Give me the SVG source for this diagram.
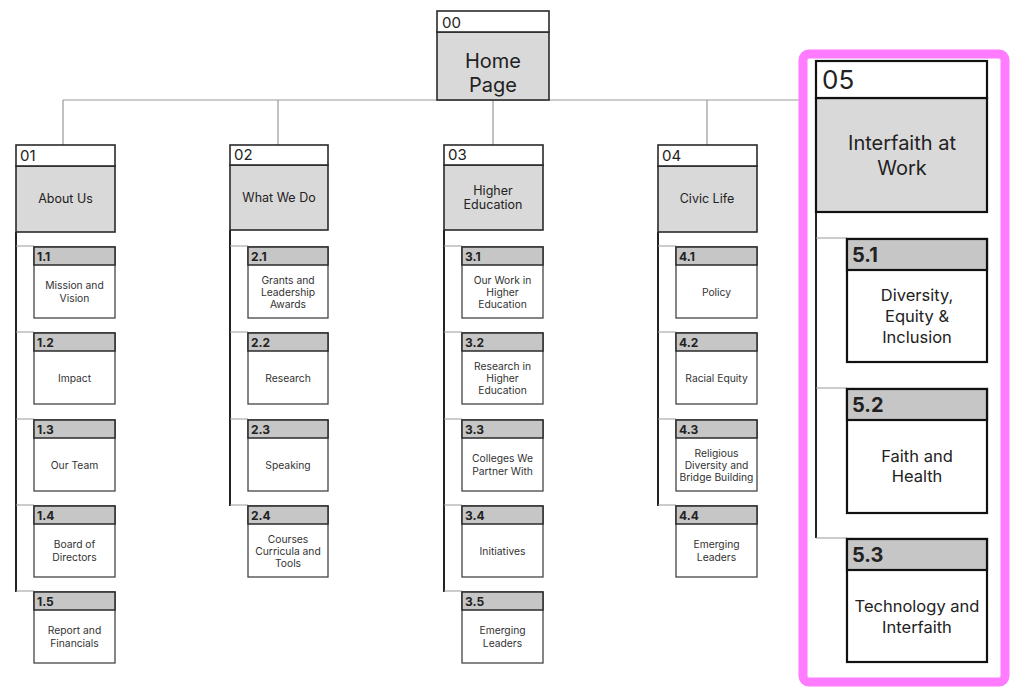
<svg xmlns="http://www.w3.org/2000/svg" width="1028" height="695" viewBox="0 0 1028 695">
<style>
text{font-family:Inter,"Noto Sans","Liberation Sans",sans-serif;fill:#222}
.hw{fill:#fff;stroke:#2a2a2a;stroke-width:1.6}
.hg{fill:#d9d9d9;stroke:#2a2a2a;stroke-width:1.6}
.cg{fill:#c6c6c6;stroke:#2a2a2a;stroke-width:1.5}
.cw{fill:#fff;stroke:#444;stroke-width:1.3}
.num{font-size:15px}
.top{font-size:12.5px;text-anchor:middle}
.cl{font-size:12px;font-weight:700}
.ct{font-size:10.3px;text-anchor:middle;fill:#333}
.thin{stroke:#999;stroke-width:1.2;fill:none}
.trunk{stroke:#222;stroke-width:2;fill:none}
.big{font-size:20px;text-anchor:middle}
.bl{font-size:20px;font-weight:700}
.bt{font-size:16.5px;text-anchor:middle}
.b5{stroke:#111;stroke-width:2.2}
</style>
<rect x="0" y="0" width="1028" height="695" fill="#fff"/>
<g id="connectors">
<path class="thin" d="M63 100H800M63 100V145M278 100V145M493 100V145M707 100V145M901 56V62"/>
<path class="trunk" d="M16 232V592M230 230V506M444 230V592M658 232V506"/>
<path class="thin" d="M16 246H34M16 332H34M16 419H34M16 505H34M16 591H34"/>
<path class="thin" d="M230 246H248M230 332H248M230 419H248M230 505H248"/>
<path class="thin" d="M444 246H462M444 332H462M444 419H462M444 505H462M444 591H462"/>
<path class="thin" d="M658 246H676M658 332H676M658 419H676M658 505H676"/>
</g>
<rect x="803" y="54" width="202" height="628" rx="6" fill="#fff" stroke="#ff7bff" stroke-width="9"/>
<path class="trunk" d="M816 212V538" stroke-width="2.4"/>
<path class="thin" d="M816 238H847M816 388H847M816 538H847"/>
<g id="n00">
<rect class="hg" x="437" y="32" width="112" height="68"/>
<rect class="hw" x="437" y="11" width="112" height="21"/>
<text class="num" x="442" y="28">00</text>
<text class="big" x="493" y="68">Home</text>
<text class="big" x="493" y="92">Page</text>
</g>
<g id="n01">
<rect class="hg" x="16" y="166" width="99" height="66"/>
<rect class="hw" x="16" y="145" width="99" height="21"/>
<text class="num" x="20" y="161">01</text>
<text class="top" x="65.5" y="203">About Us</text>
</g>
<g id="n02">
<rect class="hg" x="230" y="165" width="98" height="65"/>
<rect class="hw" x="230" y="145" width="98" height="20"/>
<text class="num" x="234" y="160">02</text>
<text class="top" x="279" y="202">What We Do</text>
</g>
<g id="n03">
<rect class="hg" x="444" y="165" width="99" height="65"/>
<rect class="hw" x="444" y="145" width="99" height="20"/>
<text class="num" x="448" y="160">03</text>
<text class="top" x="493" y="195">Higher</text>
<text class="top" x="493" y="209">Education</text>
</g>
<g id="n04">
<rect class="hg" x="658" y="166" width="99" height="66"/>
<rect class="hw" x="658" y="145" width="99" height="21"/>
<text class="num" x="662" y="161">04</text>
<text class="top" x="707" y="203">Civic Life</text>
</g>
<g id="n05">
<rect class="hg b5" x="816" y="98" width="171" height="114"/>
<rect class="hw b5" x="816" y="61" width="171" height="37"/>
<text x="822" y="89" font-size="26">05</text>
<text class="big" x="902" y="150">Interfaith at</text>
<text class="big" x="902" y="175">Work</text>
</g>
<!-- column 1 children -->
<g id="n1_1"><rect class="cw" x="34" y="247" width="81" height="71"/><rect class="cg" x="34" y="247" width="81" height="18"/><text class="cl" x="37" y="261">1.1</text><text class="ct" x="74.5" y="289">Mission and</text><text class="ct" x="74.5" y="302">Vision</text></g>
<g id="n1_2"><rect class="cw" x="34" y="333" width="81" height="71"/><rect class="cg" x="34" y="333" width="81" height="18"/><text class="cl" x="37" y="347">1.2</text><text class="ct" x="74.5" y="381.5">Impact</text></g>
<g id="n1_3"><rect class="cw" x="34" y="420" width="81" height="71"/><rect class="cg" x="34" y="420" width="81" height="18"/><text class="cl" x="37" y="434">1.3</text><text class="ct" x="74.5" y="468.5">Our Team</text></g>
<g id="n1_4"><rect class="cw" x="34" y="506" width="81" height="71"/><rect class="cg" x="34" y="506" width="81" height="18"/><text class="cl" x="37" y="520">1.4</text><text class="ct" x="74.5" y="548">Board of</text><text class="ct" x="74.5" y="561">Directors</text></g>
<g id="n1_5"><rect class="cw" x="34" y="592" width="81" height="71"/><rect class="cg" x="34" y="592" width="81" height="18"/><text class="cl" x="37" y="606">1.5</text><text class="ct" x="74.5" y="634">Report and</text><text class="ct" x="74.5" y="647">Financials</text></g>
<!-- column 2 children -->
<g id="n2_1"><rect class="cw" x="248" y="247" width="80" height="71"/><rect class="cg" x="248" y="247" width="80" height="18"/><text class="cl" x="251" y="261">2.1</text><text class="ct" x="288" y="283.5">Grants and</text><text class="ct" x="288" y="295.5">Leadership</text><text class="ct" x="288" y="307.5">Awards</text></g>
<g id="n2_2"><rect class="cw" x="248" y="333" width="80" height="71"/><rect class="cg" x="248" y="333" width="80" height="18"/><text class="cl" x="251" y="347">2.2</text><text class="ct" x="288" y="381.5">Research</text></g>
<g id="n2_3"><rect class="cw" x="248" y="420" width="80" height="71"/><rect class="cg" x="248" y="420" width="80" height="18"/><text class="cl" x="251" y="434">2.3</text><text class="ct" x="288" y="468.5">Speaking</text></g>
<g id="n2_4"><rect class="cw" x="248" y="506" width="80" height="71"/><rect class="cg" x="248" y="506" width="80" height="18"/><text class="cl" x="251" y="520">2.4</text><text class="ct" x="288" y="542.5">Courses</text><text class="ct" x="288" y="554.5">Curricula and</text><text class="ct" x="288" y="566.5">Tools</text></g>
<!-- column 3 children -->
<g id="n3_1"><rect class="cw" x="462" y="247" width="81" height="71"/><rect class="cg" x="462" y="247" width="81" height="18"/><text class="cl" x="465" y="261">3.1</text><text class="ct" x="502.5" y="283.5">Our Work in</text><text class="ct" x="502.5" y="295.5">Higher</text><text class="ct" x="502.5" y="307.5">Education</text></g>
<g id="n3_2"><rect class="cw" x="462" y="333" width="81" height="71"/><rect class="cg" x="462" y="333" width="81" height="18"/><text class="cl" x="465" y="347">3.2</text><text class="ct" x="502.5" y="369.5">Research in</text><text class="ct" x="502.5" y="381.5">Higher</text><text class="ct" x="502.5" y="393.5">Education</text></g>
<g id="n3_3"><rect class="cw" x="462" y="420" width="81" height="71"/><rect class="cg" x="462" y="420" width="81" height="18"/><text class="cl" x="465" y="434">3.3</text><text class="ct" x="502.5" y="462">Colleges We</text><text class="ct" x="502.5" y="475">Partner With</text></g>
<g id="n3_4"><rect class="cw" x="462" y="506" width="81" height="71"/><rect class="cg" x="462" y="506" width="81" height="18"/><text class="cl" x="465" y="520">3.4</text><text class="ct" x="502.5" y="554.5">Initiatives</text></g>
<g id="n3_5"><rect class="cw" x="462" y="592" width="81" height="71"/><rect class="cg" x="462" y="592" width="81" height="18"/><text class="cl" x="465" y="606">3.5</text><text class="ct" x="502.5" y="634">Emerging</text><text class="ct" x="502.5" y="647">Leaders</text></g>
<!-- column 4 children -->
<g id="n4_1"><rect class="cw" x="676" y="247" width="81" height="71"/><rect class="cg" x="676" y="247" width="81" height="18"/><text class="cl" x="679" y="261">4.1</text><text class="ct" x="716.5" y="295.5">Policy</text></g>
<g id="n4_2"><rect class="cw" x="676" y="333" width="81" height="71"/><rect class="cg" x="676" y="333" width="81" height="18"/><text class="cl" x="679" y="347">4.2</text><text class="ct" x="716.5" y="381.5">Racial Equity</text></g>
<g id="n4_3"><rect class="cw" x="676" y="420" width="81" height="71"/><rect class="cg" x="676" y="420" width="81" height="18"/><text class="cl" x="679" y="434">4.3</text><text class="ct" x="716.5" y="456.5">Religious</text><text class="ct" x="716.5" y="468.5">Diversity and</text><text class="ct" x="716.5" y="480.5">Bridge Building</text></g>
<g id="n4_4"><rect class="cw" x="676" y="506" width="81" height="71"/><rect class="cg" x="676" y="506" width="81" height="18"/><text class="cl" x="679" y="520">4.4</text><text class="ct" x="716.5" y="548">Emerging</text><text class="ct" x="716.5" y="561">Leaders</text></g>
<!-- column 5 children -->
<g id="n5_1"><rect class="cw b5" x="847" y="239" width="140" height="123"/><rect class="cg b5" x="847" y="239" width="140" height="31"/><text class="bl" x="852" y="262">5.1</text><text class="bt" x="917" y="301">Diversity,</text><text class="bt" x="917" y="322">Equity &amp;</text><text class="bt" x="917" y="343">Inclusion</text></g>
<g id="n5_2"><rect class="cw b5" x="847" y="389" width="140" height="124"/><rect class="cg b5" x="847" y="389" width="140" height="31"/><text class="bl" x="852" y="412">5.2</text><text class="bt" x="917" y="462">Faith and</text><text class="bt" x="917" y="482">Health</text></g>
<g id="n5_3"><rect class="cw b5" x="847" y="539" width="140" height="123"/><rect class="cg b5" x="847" y="539" width="140" height="31"/><text class="bl" x="852" y="562">5.3</text><text class="bt" x="917" y="612">Technology and</text><text class="bt" x="917" y="633">Interfaith</text></g>
</svg>
